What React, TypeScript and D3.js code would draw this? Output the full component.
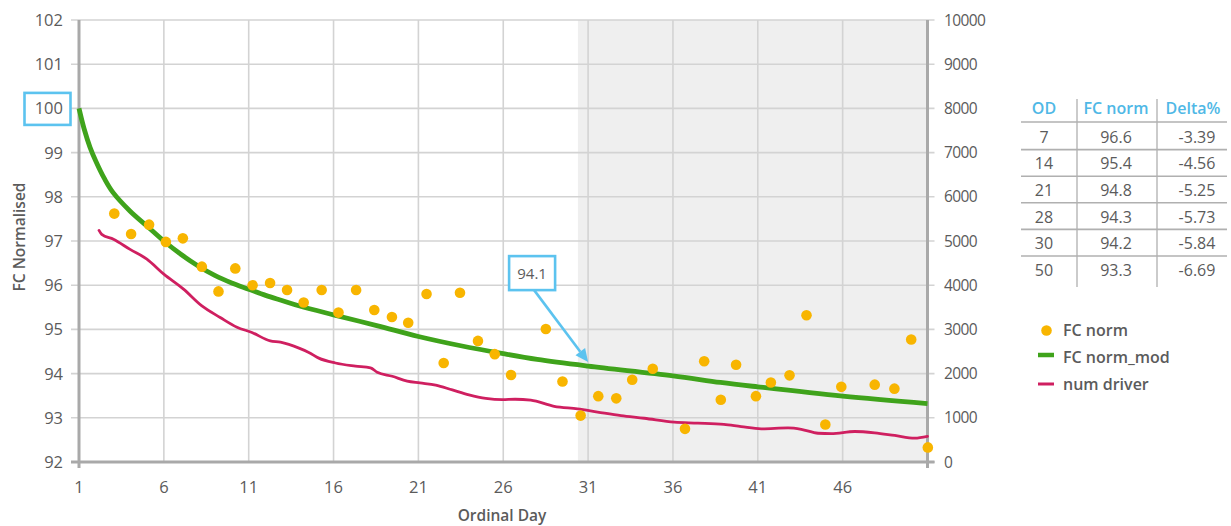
import React from "react";
import * as d3 from "d3";

// ---------- DATA ----------
const fcNormDays = [3.08, 4.07, 5.13, 6.12, 7.12, 8.24, 9.22, 10.21, 11.23, 12.26, 13.26, 14.24, 15.3, 16.29, 17.33, 18.4, 19.44, 20.4, 21.48, 22.49, 23.45, 24.51, 25.5, 26.46, 28.51, 29.49, 30.56, 31.6, 32.66, 33.6, 34.81, 36.71, 37.84, 38.82, 39.72, 40.89, 41.77, 42.87, 43.87, 44.98, 45.92, 47.89, 49.05, 50.04, 51.02];
const fcNormValues = [97.62, 97.16, 97.37, 96.98, 97.06, 96.42, 95.86, 96.38, 96.0, 96.05, 95.89, 95.61, 95.89, 95.38, 95.89, 95.44, 95.28, 95.15, 95.8, 94.24, 95.83, 94.74, 94.44, 93.97, 95.01, 93.82, 93.05, 93.49, 93.44, 93.86, 94.11, 92.75, 94.28, 93.41, 94.2, 93.49, 93.8, 93.96, 95.32, 92.85, 93.7, 93.75, 93.66, 94.77, 92.33];

const modDays = [1, 1.3, 1.65, 2, 2.5, 3, 4, 5, 6, 7, 8, 9, 10, 11, 12, 13, 14, 16, 18.6, 21, 23.5, 26, 28, 31, 36, 38.8, 41, 46, 51];
const modValues = [100, 99.54, 99.12, 98.8, 98.41, 98.1, 97.68, 97.34, 97.0, 96.7, 96.44, 96.22, 96.05, 95.91, 95.77, 95.65, 95.53, 95.33, 95.08, 94.84, 94.63, 94.45, 94.32, 94.17, 93.95, 93.8, 93.7, 93.49, 93.32];

const driverDays = [2.18, 2.34, 3.03, 4.01, 5.0, 6.0, 7.16, 8.24, 9.32, 10.31, 11.19, 12.27, 12.87, 14.0, 14.54, 15.13, 16.11, 17.29, 18.18, 18.57, 19.46, 20.34, 21.09, 22.02, 23.0, 23.98, 24.97, 25.95, 26.7, 27.62, 29.0, 30.38, 31.56, 32.94, 34.31, 36.08, 37.46, 39.0, 40.02, 41.2, 42.78, 43.56, 44.55, 45.33, 46.71, 47.89, 49.07, 50.25, 51.0];
const driverValues = [5240, 5150, 5040, 4810, 4590, 4250, 3910, 3530, 3270, 3050, 2930, 2740, 2710, 2570, 2480, 2350, 2240, 2170, 2130, 2030, 1940, 1830, 1790, 1740, 1630, 1520, 1440, 1410, 1420, 1400, 1260, 1200, 1130, 1050, 990, 900, 880, 850, 800, 750, 770, 740, 650, 640, 690, 660, 600, 540, 580];

const xTicks = [1, 6, 11, 16, 21, 26, 31, 36, 41, 46];
const yLeftTicks = [92, 93, 94, 95, 96, 97, 98, 99, 100, 101, 102];
const yRightTicks = [0, 1000, 2000, 3000, 4000, 5000, 6000, 7000, 8000, 9000, 10000];

const tableHeaders = ["OD", "FC norm", "Delta%"];
const tableOD = ["7", "14", "21", "28", "30", "50"];
const tableFC = ["96.6", "95.4", "94.8", "94.3", "94.2", "93.3"];
const tableDelta = ["-3.39", "-4.56", "-5.25", "-5.73", "-5.84", "-6.69"];

const legendLabels = ["FC norm", "FC norm_mod", "num driver"];

const shadeStartDay = 30.4;
const highlightTick = 100;
const annotationLabel = "94.1";
const annotationDay = 31;
const annotationValue = 94.26;

// ---------- STYLE ----------
const FONT = "'Open Sans', 'Noto Sans', sans-serif";
const TEXT = "#5b5b5b";
const GRID = "#d3d3d3";
const AXIS = "#a9a9a9";
const ORANGE = "#f8b500";
const GREEN = "#3fa31b";
const PINK = "#cf1f60";
const BLUE = "#5cc3ef";

export default function App() {
  const W = 1231, H = 526;
  const x = d3.scaleLinear().domain([1, 51]).range([79, 927.5]);
  const yL = d3.scaleLinear().domain([92, 102]).range([462, 20]);
  const yR = d3.scaleLinear().domain([0, 10000]).range([462, 20]);
  const x0 = x.range()[0], x1 = x.range()[1];
  const yTop = yL.range()[1], yBot = yL.range()[0];

  const modLine = d3
    .line<number>()
    .x((_, i) => x(modDays[i]))
    .y((d) => yL(d))
    .curve(d3.curveCatmullRom.alpha(0.5))(modValues) as string;

  const driverLine = d3
    .line<number>()
    .x((_, i) => x(driverDays[i]))
    .y((d) => yR(d))
    .curve(d3.curveMonotoneX)(driverValues) as string;

  // annotation
  const tipX = x(annotationDay);
  const tipY = yL(annotationValue);
  const boxW = 46, boxH = 34;
  const boxCX = tipX - 56, boxCY = tipY - 89;
  const startX = boxCX + 2, startY = boxCY + boxH / 2;
  const ang = Math.atan2(tipY - startY, tipX - startX);
  const ah = 13, aw = 6;
  const bx = tipX - ah * Math.cos(ang), by = tipY - ah * Math.sin(ang);
  const p1 = [bx + aw * Math.sin(ang), by - aw * Math.cos(ang)];
  const p2 = [bx - aw * Math.sin(ang), by + aw * Math.cos(ang)];

  // table layout
  const colCenters = [1044, 1116, 1193];
  const colSeps = [1077, 1157];
  const headerY = 108;
  const rowY0 = 137, rowH = 26.6;
  const lineY0 = 122;

  return (
    <svg width={W} height={H} style={{ position: "absolute", left: 0, top: 0, background: "#fff" }} fontFamily={FONT}>
      {/* shaded region */}
      <rect x={x(shadeStartDay)} y={yTop} width={x1 - x(shadeStartDay)} height={yBot - yTop} fill="#efefef" />

      {/* horizontal grid + left/right ticks */}
      {yLeftTicks.map((t) => (
        <line key={"hg" + t} x1={x0 - 8} x2={x1 + 7} y1={yL(t)} y2={yL(t)} stroke={t === 92 ? AXIS : GRID} strokeWidth={1.6} />
      ))}
      {/* vertical grid */}
      {xTicks.slice(1).map((t) => (
        <line key={"vg" + t} x1={x(t)} x2={x(t)} y1={yTop} y2={yBot} stroke={GRID} strokeWidth={1.6} />
      ))}

      {/* axes */}
      <line x1={x0} x2={x0} y1={yTop} y2={yBot + 6} stroke={AXIS} strokeWidth={3} />
      <line x1={x1} x2={x1} y1={yTop} y2={yBot + 6} stroke={AXIS} strokeWidth={3} />
      <line x1={x0 - 8} x2={x1 + 7} y1={yBot} y2={yBot} stroke={AXIS} strokeWidth={3} />

      {/* left tick labels */}
      {yLeftTicks.map((t) => (
        <text key={"yl" + t} x={63} y={yL(t)} dy="0.36em" textAnchor="end" fontSize={16.5} fill={TEXT} fontWeight={500}>
          {t}
        </text>
      ))}
      {/* highlight box on 100 */}
      <rect x={24.5} y={yL(highlightTick) - 15.5} width={46} height={32} fill="none" stroke={BLUE} strokeWidth={2.6} />

      {/* right tick labels */}
      {yRightTicks.map((t) => (
        <text key={"yr" + t} x={944} y={yR(t)} dy="0.36em" textAnchor="start" fontSize={15.5} letterSpacing={-0.6} fill={TEXT} fontWeight={500}>
          {t}
        </text>
      ))}

      {/* bottom tick labels */}
      {xTicks.map((t) => (
        <text key={"xt" + t} x={x(t)} y={487} dy="0.36em" textAnchor="middle" fontSize={16.5} fill={TEXT} fontWeight={500}>
          {t}
        </text>
      ))}

      {/* axis titles */}
      <text x={502} y={515} dy="0.36em" textAnchor="middle" fontSize={15.5} fontWeight={600} fill={TEXT}>
        Ordinal Day
      </text>
      <text transform="translate(19,237) rotate(-90)" textAnchor="middle" dy="0.36em" fontSize={15.5} fontWeight={600} fill={TEXT}>
        FC Normalised
      </text>

      {/* num driver line */}
      <path d={driverLine} fill="none" stroke={PINK} strokeWidth={2.8} strokeLinejoin="round" strokeLinecap="round" />
      {/* FC norm_mod line */}
      <path d={modLine} fill="none" stroke={GREEN} strokeWidth={4.8} strokeLinejoin="round" />
      {/* FC norm dots */}
      {fcNormValues.map((v, i) => (
        <circle key={"d" + i} cx={x(fcNormDays[i])} cy={yL(v)} r={5.3} fill={ORANGE} />
      ))}

      {/* annotation */}
      <line x1={startX} y1={startY} x2={bx} y2={by} stroke={BLUE} strokeWidth={2.6} />
      <polygon points={`${tipX},${tipY} ${p1[0]},${p1[1]} ${p2[0]},${p2[1]}`} fill={BLUE} />
      <rect x={boxCX - boxW / 2} y={boxCY - boxH / 2} width={boxW} height={boxH} fill="#fff" stroke={BLUE} strokeWidth={2.6} />
      <text x={boxCX} y={boxCY} dy="0.36em" textAnchor="middle" fontSize={15} fill={TEXT} fontWeight={500}>
        {annotationLabel}
      </text>

      {/* table */}
      {tableHeaders.map((h, i) => (
        <text key={"th" + i} x={colCenters[i]} y={headerY} dy="0.36em" textAnchor="middle" fontSize={16} fontWeight={600} fill="#4fb8e6">
          {h}
        </text>
      ))}
      {colSeps.map((cx, i) => (
        <line key={"cs" + i} x1={cx} x2={cx} y1={99} y2={287} stroke="#b5b5b5" strokeWidth={1.4} />
      ))}
      {tableOD.map((_, r) => (
        <line key={"rl" + r} x1={1021} x2={1227} y1={lineY0 + r * rowH + (r === 0 ? 0 : 1)} y2={lineY0 + r * rowH + (r === 0 ? 0 : 1)} stroke="#b0b0b0" strokeWidth={1.6} />
      ))}
      {tableOD.map((od, r) => (
        <g key={"tr" + r}>
          <text x={colCenters[0]} y={rowY0 + r * rowH} dy="0.36em" textAnchor="middle" fontSize={16} fill={TEXT} fontWeight={500}>{od}</text>
          <text x={colCenters[1]} y={rowY0 + r * rowH} dy="0.36em" textAnchor="middle" fontSize={16} fill={TEXT} fontWeight={500}>{tableFC[r]}</text>
          <text x={1197} y={rowY0 + r * rowH} dy="0.36em" textAnchor="middle" fontSize={16} fill={TEXT} fontWeight={500}>{tableDelta[r]}</text>
        </g>
      ))}

      {/* legend */}
      <circle cx={1046.5} cy={330.5} r={5.3} fill={ORANGE} />
      <line x1={1038} x2={1054} y1={355} y2={355} stroke={GREEN} strokeWidth={4.5} />
      <line x1={1038} x2={1054} y1={384} y2={384} stroke={PINK} strokeWidth={3} />
      {legendLabels.map((l, i) => (
        <text key={"lg" + i} x={1063} y={330.5 + i * 26.8} dy="0.36em" fontSize={16} fontWeight={600} fill={TEXT}>
          {l}
        </text>
      ))}
    </svg>
  );
}
